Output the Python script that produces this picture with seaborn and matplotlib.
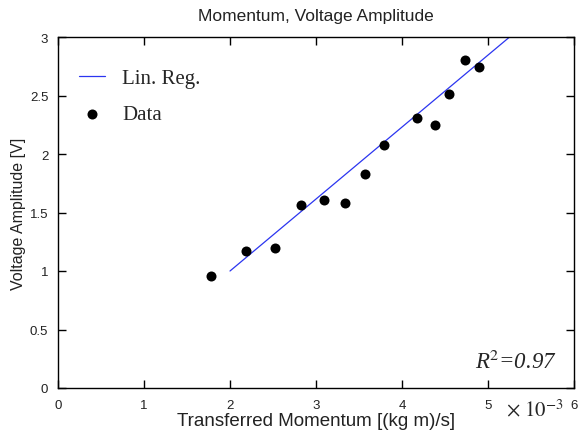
import matplotlib
matplotlib.use("Agg")
import matplotlib.pyplot as plt
import seaborn as sns
import pandas as pd

# Transferred momentum in units of 1e-3 (kg m)/s, measured voltage amplitude in V
momentum = [1.78, 2.19, 2.52, 2.83, 3.09, 3.34, 3.57, 3.79, 4.18, 4.38, 4.55, 4.73, 4.89]
voltage = [0.96, 1.17, 1.20, 1.56, 1.61, 1.58, 1.83, 2.08, 2.31, 2.25, 2.51, 2.80, 2.74]

# Endpoints of the fitted regression line
fit_momentum = [2.0, 5.3]
fit_voltage = [1.0, 3.03]

r_squared = "0.97"
x_ticks = [0, 1, 2, 3, 4, 5, 6]
y_ticks = [0, 0.5, 1, 1.5, 2, 2.5, 3]
y_tick_labels = ["0", "0.5", "1", "1.5", "2", "2.5", "3"]

data = pd.DataFrame({"momentum": momentum, "voltage": voltage})
fit = pd.DataFrame({"momentum": fit_momentum, "voltage": fit_voltage})

sns.set_theme(style="ticks")
plt.rcParams["font.family"] = ["Liberation Sans", "DejaVu Sans"]
plt.rcParams["mathtext.fontset"] = "stix"

fig = plt.figure(figsize=(5.79, 4.31), dpi=100)
ax = fig.add_axes([58 / 579, 1 - 389 / 431, (574 - 58) / 579, (389 - 38) / 431])

sns.lineplot(data=fit, x="momentum", y="voltage", ax=ax, color="#2b35f0",
             linewidth=0.9, label="Lin. Reg.")
sns.scatterplot(data=data, x="momentum", y="voltage", ax=ax, color="black",
                s=52, edgecolor="black", linewidth=0, label="Data", zorder=3)

ax.set_xlim(0, 6)
ax.set_ylim(0, 3)
ax.set_xticks(x_ticks)
ax.set_xticklabels([str(t) for t in x_ticks])
ax.set_yticks(y_ticks)
ax.set_yticklabels(y_tick_labels)

for side in ["top", "right", "left", "bottom"]:
    ax.spines[side].set_visible(True)
    ax.spines[side].set_color("black")
    ax.spines[side].set_linewidth(1.0)

ax.tick_params(direction="in", length=6, width=1, top=True, right=True,
               labelsize=9.5, labelcolor="#222222", color="black")
ax.tick_params(axis="x", pad=8)
ax.tick_params(axis="y", pad=7)

ax.set_title("Momentum, Voltage Amplitude", fontsize=12.5, color="#222222", pad=12)
ax.set_xlabel("Transferred Momentum [(kg m)/s]", fontsize=13.5, color="#222222", labelpad=1)
ax.set_ylabel("Voltage Amplitude [V]", fontsize=11.5, color="#222222", labelpad=3)

leg = ax.legend(loc="upper left", bbox_to_anchor=(0.04, 0.91), frameon=False,
                borderpad=0, borderaxespad=0, handlelength=1.25, handletextpad=0.85,
                labelspacing=0.78, prop={"family": "Liberation Serif", "size": 15})

ax.text(5.8, 0.23, "R$^2$=" + r_squared, ha="right", va="center",
        fontsize=16.5, fontstyle="italic", family="Liberation Serif")
# Offset of the x axis scale
fig.text(506 / 579, 1 - 410 / 431, r"$\times\ 10^{-3}$", ha="left", va="center",
         fontsize=15)

fig.savefig("out.png", dpi=100)
